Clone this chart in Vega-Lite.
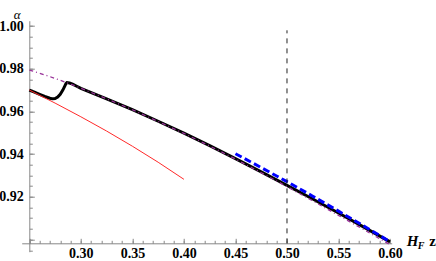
{
  "$schema": "https://vega.github.io/schema/vega-lite/v6.json",
  "autosize": "none",
  "width": 370,
  "height": 231,
  "padding": {"left": 21.7, "top": 20.7, "right": 44.3, "bottom": 9.3},
  "background": "white",
  "config": {"view": {"stroke": null}},
  "datasets": {
    "black": [
      {"x": 0.25, "y": 0.97}, {"x": 0.255, "y": 0.969}, {"x": 0.26, "y": 0.968}, {"x": 0.265, "y": 0.967},
      {"x": 0.27, "y": 0.9662}, {"x": 0.2725, "y": 0.9659}, {"x": 0.275, "y": 0.966}, {"x": 0.2775, "y": 0.9667},
      {"x": 0.28, "y": 0.968}, {"x": 0.2825, "y": 0.97}, {"x": 0.2845, "y": 0.972}, {"x": 0.2855, "y": 0.973},
      {"x": 0.2865, "y": 0.9735}, {"x": 0.289, "y": 0.9733}, {"x": 0.292, "y": 0.9728}, {"x": 0.296, "y": 0.9718},
      {"x": 0.3, "y": 0.9708}, {"x": 0.325, "y": 0.9659}, {"x": 0.35, "y": 0.9608}, {"x": 0.375, "y": 0.9554},
      {"x": 0.4, "y": 0.9498}, {"x": 0.425, "y": 0.944}, {"x": 0.45, "y": 0.9379}, {"x": 0.475, "y": 0.9317},
      {"x": 0.5, "y": 0.9254}, {"x": 0.525, "y": 0.919}, {"x": 0.55, "y": 0.9124}, {"x": 0.575, "y": 0.9057},
      {"x": 0.6, "y": 0.8989}
    ],
    "red": [
      {"x": 0.25, "y": 0.97}, {"x": 0.275, "y": 0.9639}, {"x": 0.3, "y": 0.9575}, {"x": 0.325, "y": 0.9508},
      {"x": 0.35, "y": 0.9437}, {"x": 0.375, "y": 0.9362}, {"x": 0.4, "y": 0.9282}
    ],
    "purple": [
      {"x": 0.25, "y": 0.9794}, {"x": 0.26, "y": 0.9779}, {"x": 0.27, "y": 0.9763}, {"x": 0.28, "y": 0.9746},
      {"x": 0.29, "y": 0.9728}, {"x": 0.3, "y": 0.9709}, {"x": 0.325, "y": 0.9659}, {"x": 0.35, "y": 0.9608},
      {"x": 0.375, "y": 0.9553}, {"x": 0.4, "y": 0.9497}, {"x": 0.425, "y": 0.9438}, {"x": 0.45, "y": 0.9377},
      {"x": 0.475, "y": 0.9313}, {"x": 0.5, "y": 0.9248}, {"x": 0.525, "y": 0.9181}, {"x": 0.55, "y": 0.9113},
      {"x": 0.575, "y": 0.9045}, {"x": 0.6, "y": 0.8976}
    ],
    "blue": [
      {"x": 0.45, "y": 0.9402}, {"x": 0.475, "y": 0.9337}, {"x": 0.5, "y": 0.9271}, {"x": 0.525, "y": 0.9203},
      {"x": 0.55, "y": 0.9133}, {"x": 0.575, "y": 0.9062}, {"x": 0.6, "y": 0.899}
    ],
    "vline": [{"x": 0.5, "y": 0.8982, "y2": 0.998}]
  },
  "resolve": {"axis": {"x": "independent", "y": "independent"}},
  "layer": [
    {
      "data": {"name": "black"},
      "mark": {"type": "line", "color": "black", "strokeWidth": 3},
      "encoding": {
        "x": {"field": "x", "type": "quantitative", "scale": {"domain": [0.2426, 0.6016], "nice": false, "zero": false},
          "axis": {"orient": "bottom", "offset": -8.4, "domain": false, "ticks": false, "labels": false, "grid": false,
            "title": "H", "titleFont": "Liberation Serif", "titleFontStyle": "italic", "titleFontWeight": 700, "titleFontSize": 15,
            "titleColor": "black", "titleX": 390.5, "titleY": 2.5, "titleAlign": "center", "titleBaseline": "alphabetic", "titleAngle": 0}},
        "y": {"field": "y", "type": "quantitative", "scale": {"domain": [0.8943, 1.0025], "nice": false, "zero": false}, "axis": null}
      }
    },
    {
      "data": {"name": "red"},
      "mark": {"type": "line", "color": "#ff2a2a", "strokeWidth": 1},
      "encoding": {
        "x": {"field": "x", "type": "quantitative", "scale": {"domain": [0.2426, 0.6016], "nice": false, "zero": false},
          "axis": {"orient": "bottom", "offset": -8.4, "domain": false, "labels": false, "grid": false, "title": null,
            "values": [0.25,0.26,0.27,0.28,0.29,0.3,0.31,0.32,0.33,0.34,0.35,0.36,0.37,0.38,0.39,0.4,0.41,0.42,0.43,0.44,0.45,0.46,0.47,0.48,0.49,0.5,0.51,0.52,0.53,0.54,0.55,0.56,0.57,0.58,0.59,0.6],
            "tickSize": -3, "tickColor": "#888888", "tickWidth": 1}},
        "y": {"field": "y", "type": "quantitative", "scale": {"domain": [0.8943, 1.0025], "nice": false, "zero": false},
          "axis": {"orient": "left", "offset": -7.6, "domain": false, "labels": false, "grid": false, "title": null,
            "values": [0.895,0.9,0.905,0.91,0.915,0.92,0.925,0.93,0.935,0.94,0.945,0.95,0.955,0.96,0.965,0.97,0.975,0.98,0.985,0.99,0.995,1.0],
            "tickSize": -3, "tickColor": "#888888", "tickWidth": 1}}
      }
    },
    {
      "data": {"name": "purple"},
      "mark": {"type": "line", "color": "#993399", "strokeWidth": 1.3, "strokeDash": [4, 3, 1, 3]},
      "encoding": {
        "x": {"field": "x", "type": "quantitative", "scale": {"domain": [0.2426, 0.6016], "nice": false, "zero": false},
          "axis": {"orient": "bottom", "offset": -8.4, "grid": false, "title": null,
            "values": [0.25, 0.3, 0.35, 0.4, 0.45, 0.5, 0.55, 0.6],
            "labelExpr": "datum.value < 0.27 ? '' : format(datum.value, '.2f')",
            "domainColor": "#888888", "domainWidth": 1, "tickColor": "#888888", "tickSize": -5, "tickWidth": 1,
            "labelFont": "Liberation Serif", "labelFontWeight": 700, "labelFontSize": 14, "labelColor": "black",
            "labelPadding": 8, "labelFlush": false, "labelOverlap": false}},
        "y": {"field": "y", "type": "quantitative", "scale": {"domain": [0.8943, 1.0025], "nice": false, "zero": false},
          "axis": {"orient": "left", "offset": -7.6, "grid": false,
            "values": [0.9, 0.92, 0.94, 0.96, 0.98, 1.0],
            "labelExpr": "datum.value < 0.91 ? '' : format(datum.value, '.2f')",
            "domainColor": "#888888", "domainWidth": 1, "tickColor": "#888888", "tickSize": -5, "tickWidth": 1,
            "labelFont": "Liberation Serif", "labelFontWeight": 700, "labelFontSize": 14, "labelColor": "black",
            "labelPadding": 11, "labelFlush": false, "labelOverlap": false,
            "title": "α", "titleFont": "Liberation Serif", "titleFontStyle": "italic", "titleFontWeight": "normal", "titleFontSize": 13,
            "titleColor": "black", "titleAngle": 0, "titleX": -16, "titleY": -2.5, "titleAlign": "left", "titleBaseline": "alphabetic"}}
      }
    },
    {
      "data": {"name": "blue"},
      "mark": {"type": "line", "color": "#0000ff", "strokeWidth": 3, "strokeDash": [7, 3.5]},
      "encoding": {
        "x": {"field": "x", "type": "quantitative", "scale": {"domain": [0.2426, 0.6016], "nice": false, "zero": false},
          "axis": {"orient": "bottom", "offset": -8.4, "domain": false, "ticks": false, "labels": false, "grid": false,
            "title": "F", "titleFont": "Liberation Serif", "titleFontStyle": "italic", "titleFontWeight": 700, "titleFontSize": 10,
            "titleColor": "black", "titleX": 399, "titleY": 5.5, "titleAlign": "center", "titleBaseline": "alphabetic", "titleAngle": 0}},
        "y": {"field": "y", "type": "quantitative", "scale": {"domain": [0.8943, 1.0025], "nice": false, "zero": false}, "axis": null}
      }
    },
    {
      "data": {"name": "vline"},
      "mark": {"type": "rule", "color": "#222222", "strokeWidth": 1, "strokeDash": [5, 5]},
      "encoding": {
        "x": {"field": "x", "type": "quantitative", "scale": {"domain": [0.2426, 0.6016], "nice": false, "zero": false},
          "axis": {"orient": "bottom", "offset": -8.4, "domain": false, "ticks": false, "labels": false, "grid": false,
            "title": "z", "titleFont": "Liberation Serif", "titleFontWeight": 700, "titleFontSize": 15,
            "titleColor": "black", "titleX": 410.5, "titleY": 2.5, "titleAlign": "center", "titleBaseline": "alphabetic", "titleAngle": 0}},
        "y": {"field": "y", "type": "quantitative", "scale": {"domain": [0.8943, 1.0025], "nice": false, "zero": false}, "axis": null},
        "y2": {"field": "y2"}
      }
    }
  ]
}
